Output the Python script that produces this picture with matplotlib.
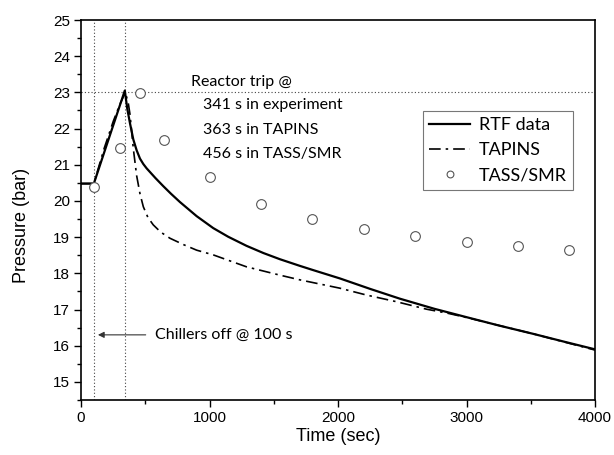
import matplotlib
matplotlib.use("Agg")
import matplotlib.pyplot as plt
import numpy as np

# RTF experiment data (solid)
rtf_t = [0, 100, 200, 341, 360, 381, 407, 433, 459, 485, 511, 580, 640, 700, 770, 900, 1029, 1146,
         1288, 1420, 1548, 1700, 1806, 2014, 2250, 2481, 2750, 2999, 3250, 3517, 3750, 4000]
rtf_p = [20.48, 20.48, 21.55, 23.05, 22.55, 22.15, 21.70, 21.40, 21.17, 21.02, 20.90, 20.63, 20.41,
         20.20, 19.97, 19.58, 19.25, 19.01, 18.76, 18.56, 18.39, 18.21, 18.09, 17.86, 17.57, 17.30,
         17.02, 16.79, 16.56, 16.33, 16.12, 15.90]

# TAPINS (dash-dot)
tap_t = [0, 100, 180, 251, 300, 345, 368, 381, 395, 407, 433, 459, 485, 520, 562, 620, 692, 800,
         900, 1029, 1288, 1548, 1703, 2014, 2222, 2450, 2688, 2850, 3000, 3517, 4000]
tap_p = [20.48, 20.48, 21.45, 22.20, 22.65, 23.00, 22.70, 22.40, 21.90, 21.45, 20.70, 20.20, 19.84,
         19.55, 19.34, 19.14, 18.97, 18.79, 18.64, 18.51, 18.18, 17.95, 17.82, 17.59, 17.40, 17.22,
         17.01, 16.90, 16.78, 16.33, 15.88]

# TASS/SMR (circles)
tass_t = [100, 300, 456, 645, 1000, 1400, 1800, 2200, 2600, 3000, 3400, 3800]
tass_p = [20.38, 21.47, 22.99, 21.68, 20.65, 19.92, 19.49, 19.22, 19.03, 18.87, 18.76, 18.65]

series_labels = ["RTF data", "TAPINS", "TASS/SMR"]
trip_lines = ["Reactor trip @", "341 s in experiment", "363 s in TAPINS", "456 s in TASS/SMR"]
chiller_text = "Chillers off @ 100 s"

sans = ["Liberation Sans", "DejaVu Sans"]
cal = ["Lato", "DejaVu Sans"]

fig = plt.figure(figsize=(6.14, 4.55), dpi=100)
ax = fig.add_axes([81/614, 1-400/455, (595-81)/614, (400-20)/455])

ax.axvline(100, color="#444444", lw=0.8, ls=(0, (1, 2)), zorder=1)
ax.axvline(341, color="#444444", lw=0.8, ls=(0, (1, 2)), zorder=1)
ax.axhline(23, color="#444444", lw=0.8, ls=(0, (1, 2)), zorder=1)

ax.plot(rtf_t, rtf_p, color="black", lw=1.6, label=series_labels[0], zorder=3)
ax.plot(tap_t, tap_p, color="black", lw=1.2, ls=(0, (7, 3, 1.5, 3)), label=series_labels[1], zorder=3)
ax.plot(tass_t, tass_p, ls="none", marker="o", ms=7, mfc="white", mec="#555555", mew=0.8,
        label=series_labels[2], zorder=4)

ax.set_xlim(0, 4000)
ax.set_ylim(14.5, 25)
ax.set_xticks([0, 1000, 2000, 3000, 4000])
ax.set_xticks(np.arange(0, 4001, 500), minor=True)
ax.set_yticks(np.arange(15, 25.1, 1))
ax.set_yticks(np.arange(14.5, 25.01, 0.5), minor=True)
ax.tick_params(which="major", direction="out", length=5, width=1.0, labelsize=11, pad=3)
ax.tick_params(which="minor", direction="out", length=3, width=1.0)
for lab in ax.get_xticklabels() + ax.get_yticklabels():
    lab.set_family(sans)
for s in ax.spines.values():
    s.set_linewidth(1.2)

ax.set_xlabel("Time (sec)", fontsize=13, family=sans, labelpad=2)
ax.set_ylabel("Pressure (bar)", fontsize=13, family=sans)
ax.yaxis.set_label_coords(-0.1, 0.46)

# Reactor trip annotation
ax.text(855, 23.29, trip_lines[0], fontsize=11.5, family=cal, va="center", ha="left")
for i, line in enumerate(trip_lines[1:]):
    ax.text(946, 22.65 - i * 0.68, line, fontsize=11.5, family=cal, va="center", ha="left")

# Chillers annotation
ax.annotate("", xy=(110, 16.3), xytext=(525, 16.3),
            arrowprops=dict(arrowstyle="-|>", color="#333333", lw=0.8, mutation_scale=9))
ax.text(575, 16.31, chiller_text, fontsize=11.5, family=cal, va="center", ha="left")

leg = ax.legend(loc="upper right", bbox_to_anchor=(0.957, 0.7605), borderaxespad=0,
                prop=dict(family=cal, size=13),
                frameon=True, fancybox=False, edgecolor="#555555", handlelength=2.3,
                handletextpad=0.45, labelspacing=0.5, borderpad=0.35, markerscale=0.7)
leg.get_frame().set_linewidth(0.8)

fig.savefig("out.png", dpi=100)
